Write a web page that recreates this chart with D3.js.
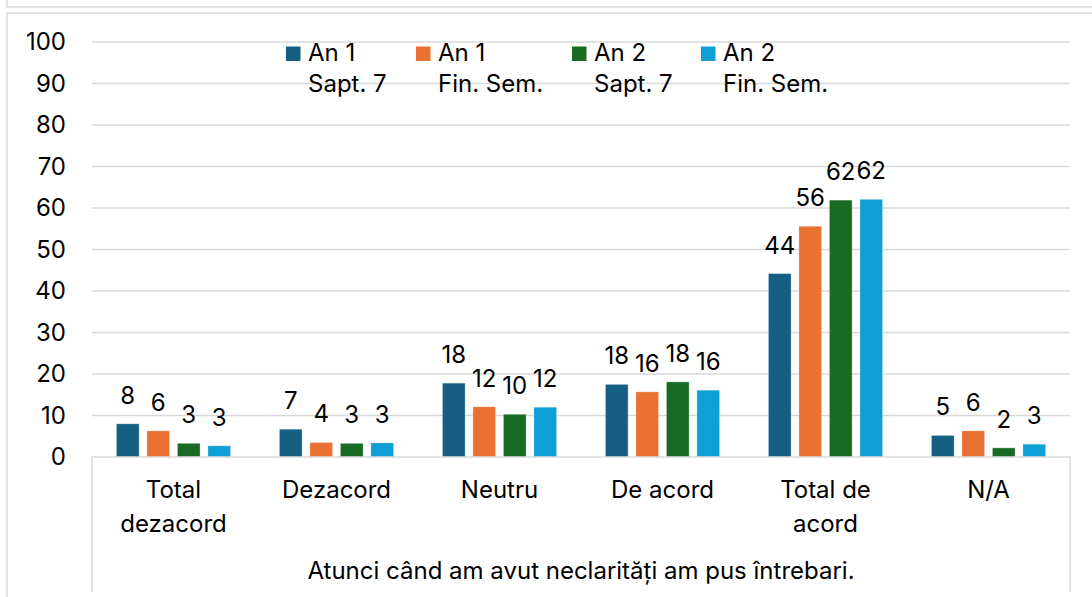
<!DOCTYPE html>
<html>
<head>
<meta charset="UTF-8">
<title>Atunci cand am avut neclaritati</title>
<script src="https://d3js.org/d3.v7.min.js"></script>
<style>
  body { margin: 0; background: #fff; }
  svg { font-family: Inter, "Liberation Sans", Arial, sans-serif; }
</style>
</head>
<body>
<svg width="1092" height="597"></svg>
<script>
// categories (multi-line labels) and the group label under them
var categories = ["Total dezacord", "Dezacord", "Neutru", "De acord", "Total de acord", "N/A"];
var categoryLines = [["Total", "dezacord"], ["Dezacord"], ["Neutru"], ["De acord"], ["Total de", "acord"], ["N/A"]];
var groupLabel = "Atunci când am avut neclarități am pus întrebari.";

// series
var seriesNames = [["An 1", "Sapt. 7"], ["An 1", "Fin. Sem."], ["An 2", "Sapt. 7"], ["An 2", "Fin. Sem."]];
var an1Sapt7   = [8.0, 6.7, 17.8, 17.5, 44.2, 5.2];
var an1FinSem  = [6.3, 3.5, 12.1, 15.7, 55.6, 6.3];
var an2Sapt7   = [3.3, 3.3, 10.3, 18.1, 61.9, 2.2];
var an2FinSem  = [2.7, 3.4, 12.0, 16.1, 62.1, 3.1];
var yTicks = [0, 10, 20, 30, 40, 50, 60, 70, 80, 90, 100];

var colors = ["#156082", "#E97132", "#196B24", "#0F9ED5"];
var allSeries = [an1Sapt7, an1FinSem, an2Sapt7, an2FinSem];

var svg = d3.select("svg");
var grid = "#d9d9d9";
var fs = "24px";

// outer frames (chart area border + bottom of previous chart)
svg.append("path")
    .attr("d", "M7,0 V7 H1092")
    .attr("fill", "none").attr("stroke", grid).attr("stroke-width", 1.5);
svg.append("path")
    .attr("d", "M1092,13 H7 V597")
    .attr("fill", "none").attr("stroke", grid).attr("stroke-width", 1.5);

var plotLeft = 92, plotRight = 1070, plotTop = 42, plotBottom = 457;

var x = d3.scaleBand().domain(categories).range([plotLeft, plotRight]);
var xi = d3.scaleBand().domain(d3.range(4)).range([0, x.bandwidth()])
    .paddingInner(0.256).paddingOuter(0.8);
var y = d3.scaleLinear().domain([0, 100]).range([plotBottom, plotTop]);

// gridlines
svg.append("g").selectAll("line")
  .data(yTicks.slice(1))
  .enter().append("line")
    .attr("x1", plotLeft).attr("x2", plotRight)
    .attr("y1", function(d) { return y(d); })
    .attr("y2", function(d) { return y(d); })
    .attr("stroke", grid).attr("stroke-width", 1.5);

// y axis labels
var yAxis = svg.append("g")
    .attr("transform", "translate(" + (plotLeft - 26) + ",0)")
    .call(d3.axisLeft(y).tickValues(yTicks).tickSize(0).tickPadding(0));
yAxis.select(".domain").remove();
yAxis.selectAll("text")
    .attr("fill", "#000")
    .style("font-size", fs)
    .style("font-family", "Inter, 'Liberation Sans', Arial, sans-serif");

// bars
var groups = svg.append("g").selectAll("g")
  .data(allSeries)
  .enter().append("g")
    .attr("fill", function(d, i) { return colors[i]; });

groups.each(function(vals, si) {
  var g = d3.select(this);
  g.selectAll("rect")
    .data(vals)
    .enter().append("rect")
      .attr("x", function(d, ci) { return x(categories[ci]) + xi(si); })
      .attr("width", xi.bandwidth())
      .attr("y", function(d) { return y(d); })
      .attr("height", function(d) { return plotBottom - y(d); })
      .attr("stroke", "#fff").attr("stroke-opacity", 0.4).attr("stroke-width", 0.75);
  g.selectAll("text")
    .data(vals)
    .enter().append("text")
      .attr("x", function(d, ci) { return x(categories[ci]) + xi(si) + xi.bandwidth() / 2; })
      .attr("y", function(d) { return y(d) - 20; })
      .attr("text-anchor", "middle")
      .attr("fill", "#000")
      .style("font-size", fs)
      .text(function(d) { return Math.round(d); });
});

// category axis box
svg.append("path")
    .attr("d", "M" + plotLeft + ",592 V" + plotBottom + " H" + plotRight + " V592")
    .attr("fill", "none").attr("stroke", grid).attr("stroke-width", 1.5);

var catG = svg.append("g").selectAll("text")
  .data(categories)
  .enter().append("text")
    .attr("x", function(d) { return x(d) + x.bandwidth() / 2; })
    .attr("y", 498)
    .attr("text-anchor", "middle")
    .attr("fill", "#000")
    .style("font-size", fs);
catG.each(function(d, i) {
  var t = d3.select(this);
  categoryLines[i].forEach(function(line, k) {
    t.append("tspan")
      .attr("x", x(d) + x.bandwidth() / 2)
      .attr("dy", k === 0 ? 0 : 33.5)
      .text(line);
  });
});

svg.append("text")
    .attr("x", (plotLeft + plotRight) / 2)
    .attr("y", 579)
    .attr("text-anchor", "middle")
    .attr("fill", "#000")
    .style("font-size", fs)
    .text(groupLabel);

// legend
var legendX = [286, 416, 572, 701];
var legend = svg.append("g").selectAll("g")
  .data(seriesNames)
  .enter().append("g")
    .attr("transform", function(d, i) { return "translate(" + legendX[i] + ",0)"; });
legend.append("rect")
    .attr("x", 0).attr("y", 46.5).attr("width", 14.5).attr("height", 14.5)
    .attr("fill", function(d, i) { return colors[i]; });
legend.append("text")
    .attr("x", 22).attr("y", 61)
    .attr("fill", "#000")
    .style("font-size", fs)
    .text(function(d) { return d[0]; });
legend.append("text")
    .attr("x", 22).attr("y", 92)
    .attr("fill", "#000")
    .style("font-size", fs)
    .text(function(d) { return d[1]; });
</script>
</body>
</html>
